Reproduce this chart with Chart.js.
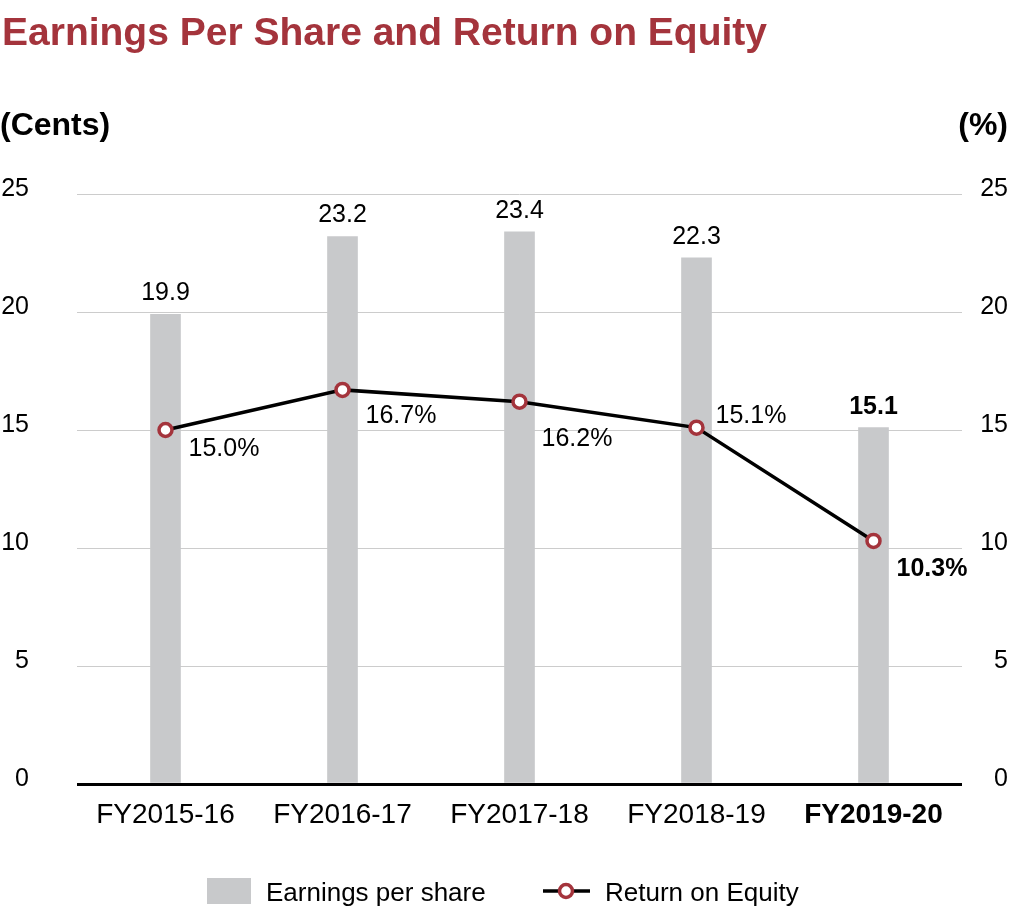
<!DOCTYPE html>
<html><head><meta charset="utf-8">
<script src="https://cdn.jsdelivr.net/npm/chart.js@4.4.1/dist/chart.umd.min.js"></script>
<style>html,body{margin:0;padding:0;background:#fff;overflow:hidden}canvas{display:block}</style>
</head><body>
<canvas id="c" width="1010" height="918"></canvas>
<script>
const categories = ['FY2015-16', 'FY2016-17', 'FY2017-18', 'FY2018-19', 'FY2019-20'];
const epsValues = [19.9, 23.2, 23.4, 22.3, 15.1];
const roeValues = [15.0, 16.7, 16.2, 15.1, 10.3];
const yTicks = [0, 5, 10, 15, 20, 25];
const titleText = 'Earnings Per Share and Return on Equity';
const leftUnit = '(Cents)';
const rightUnit = '(%)';

// label placement (pixel offsets from each line point to its label), kept apart from the data
const roeLabelDx = [23, 23, 22, 19, 23];
const roeLabelDy = [17, 24, 35, -14, 26];

const FONT = "'Liberation Sans', Arial, Helvetica, sans-serif";
const RED = '#a4343c';
const GREY = '#c8c9cb';
const last = categories.length - 1;

const decorPlugin = {
  id: 'decor',
  afterDatasetsDraw(chart) {
    const ctx = chart.ctx;
    const barMeta = chart.getDatasetMeta(0);
    const lineMeta = chart.getDatasetMeta(1);
    ctx.save();
    ctx.fillStyle = '#000';
    ctx.textBaseline = 'alphabetic';
    barMeta.data.forEach((el, i) => {
      ctx.font = (i === last ? 'bold ' : '') + '25px ' + FONT;
      ctx.textAlign = 'center';
      ctx.fillText(epsValues[i].toFixed(1), el.x, el.y - 14);
    });
    lineMeta.data.forEach((el, i) => {
      ctx.font = (i === last ? 'bold ' : '') + '25px ' + FONT;
      ctx.textAlign = 'left';
      ctx.fillText(roeValues[i].toFixed(1) + '%', el.x + roeLabelDx[i], el.y + roeLabelDy[i] + 9);
    });
    ctx.restore();
  },
  afterDraw(chart) {
    const ctx = chart.ctx;
    ctx.save();
    ctx.textBaseline = 'alphabetic';
    // title
    ctx.fillStyle = RED;
    ctx.font = 'bold 39px ' + FONT;
    ctx.textAlign = 'left';
    ctx.fillText(titleText, 2, 45);
    // units
    ctx.fillStyle = '#000';
    ctx.font = 'bold 32px ' + FONT;
    ctx.fillText(leftUnit, 0, 135);
    ctx.textAlign = 'right';
    ctx.fillText(rightUnit, 1008, 135);
    // legend
    const ds = chart.data.datasets;
    ctx.textAlign = 'left';
    ctx.font = '26px ' + FONT;
    ctx.fillStyle = ds[0].backgroundColor;
    ctx.fillRect(207, 878, 44, 26);
    ctx.fillStyle = '#000';
    ctx.fillText(ds[0].label, 266, 901);
    ctx.strokeStyle = ds[1].borderColor;
    ctx.lineWidth = 3.5;
    ctx.beginPath(); ctx.moveTo(543, 891); ctx.lineTo(590, 891); ctx.stroke();
    ctx.beginPath(); ctx.arc(566, 891, 6.5, 0, Math.PI * 2);
    ctx.fillStyle = ds[1].pointBackgroundColor; ctx.fill();
    ctx.strokeStyle = ds[1].pointBorderColor; ctx.lineWidth = 3.5; ctx.stroke();
    ctx.fillStyle = '#000';
    ctx.fillText(ds[1].label, 605, 901);
    ctx.restore();
  }
};

new Chart(document.getElementById('c'), {
  type: 'bar',
  data: {
    labels: categories,
    datasets: [
      {
        type: 'bar', label: 'Earnings per share', data: epsValues,
        backgroundColor: GREY, barThickness: 30, yAxisID: 'y', order: 1
      },
      {
        type: 'line', label: 'Return on Equity', data: roeValues,
        borderColor: '#000', borderWidth: 3.5, tension: 0,
        pointRadius: 6.5, pointHoverRadius: 6.5, pointBorderWidth: 3.5,
        pointBackgroundColor: '#fff', pointBorderColor: RED,
        yAxisID: 'y1', order: 0, clip: false
      }
    ]
  },
  options: {
    responsive: false,
    animation: false,
    events: [],
    layout: { padding: { top: 194, right: 2, left: 0, bottom: 0 } },
    plugins: { legend: { display: false }, tooltip: { enabled: false }, title: { display: false } },
    scales: {
      x: {
        offset: true,
        grid: { display: false, drawTicks: false },
        border: { display: false },
        ticks: {
          padding: 14, color: '#000',
          font: c => ({ family: FONT, size: 28, weight: c.index === last ? 'bold' : 'normal' })
        },
        afterFit: s => { s.height = 134; }
      },
      y: {
        position: 'left', min: 0, max: 25,
        afterBuildTicks: s => { s.ticks = yTicks.map(v => ({ value: v })); },
        grid: {
          drawTicks: false,
          color: c => (c.tick && c.tick.value === 0 ? '#000' : '#cccccc'),
          lineWidth: c => (c.tick && c.tick.value === 0 ? 3 : 1)
        },
        border: { display: false },
        ticks: { padding: 48, color: '#000', labelOffset: -5, crossAlign: 'near', font: { family: FONT, size: 25 } },
        afterFit: s => { s.width = 77; }
      },
      y1: {
        position: 'right', min: 0, max: 25,
        afterBuildTicks: s => { s.ticks = yTicks.map(v => ({ value: v })); },
        grid: { display: false, drawTicks: false },
        border: { display: false },
        ticks: { padding: 10, color: '#000', labelOffset: -5, crossAlign: 'far', font: { family: FONT, size: 25 } },
        afterFit: s => { s.width = 46; }
      }
    }
  },
  plugins: [decorPlugin]
});
</script>
</body></html>
